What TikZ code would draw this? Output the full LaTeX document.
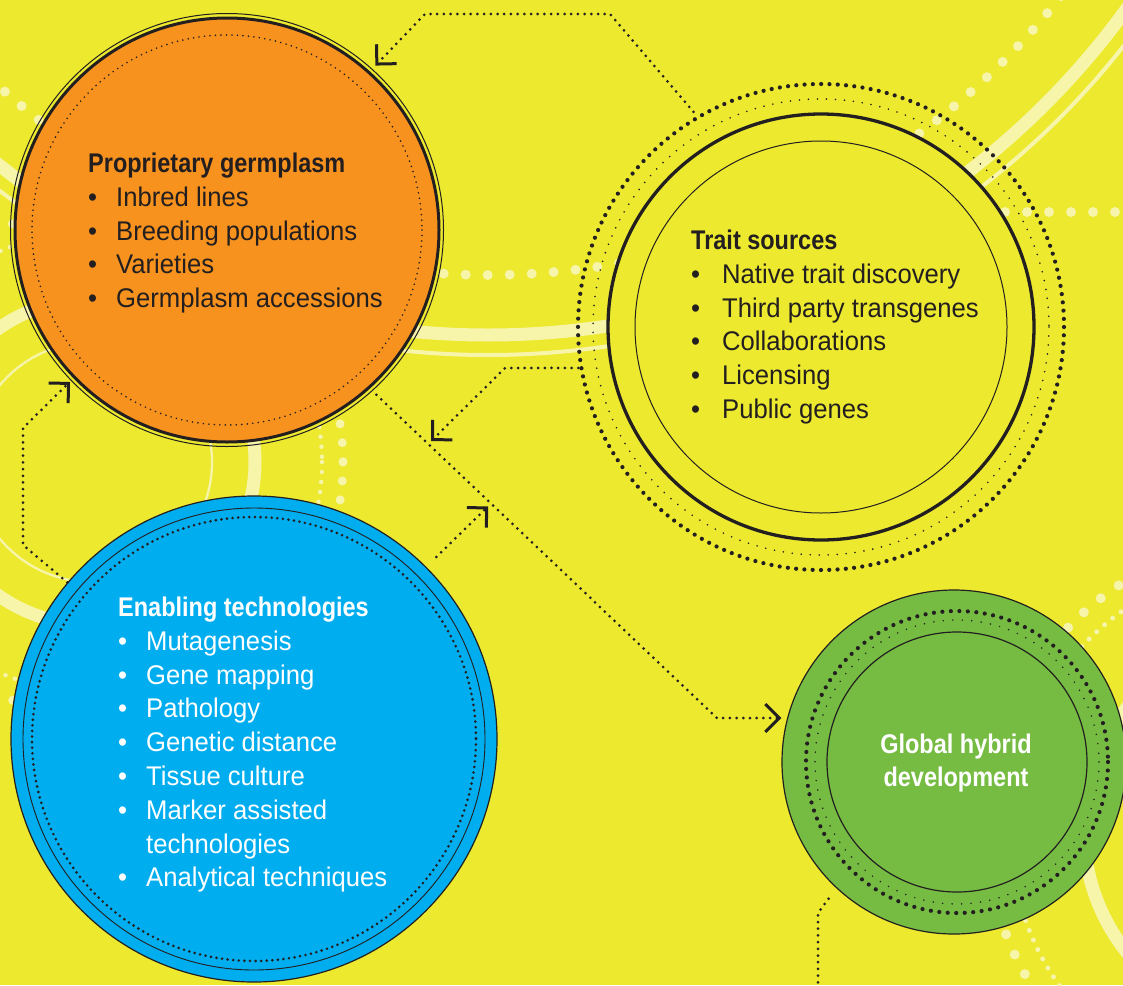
\documentclass[tikz,border=0pt]{standalone}
\usepackage{fontspec}
\setmainfont{Liberation Sans}[FakeStretch=0.95]
\newfontfamily\hfont{Liberation Sans Bold}[FakeStretch=0.87]
\usetikzlibrary{arrows.meta,calc}
\definecolor{bg}{RGB}{236,233,47}
\definecolor{pale}{RGB}{247,245,170}
\definecolor{dark}{RGB}{35,31,32}
\definecolor{orng}{RGB}{247,146,30}
\definecolor{blu}{RGB}{0,173,238}
\definecolor{grn}{RGB}{118,188,66}
\newcommand\mybul[1][28pt]{\makebox[#1][l]{\textbullet}}
\begin{document}
\begin{tikzpicture}[x=1pt,y=-1pt,
  conn/.style={draw=dark, line width=3pt, dash pattern=on 0pt off 6.7pt, line cap=round},
  tip/.style={-{Straight Barb[length=14pt, width=28pt, line width=3pt, sharp]}},
  paleband/.style={draw=pale, line width=#1},
  paledots/.style 2 args={draw=pale, line width=#1, dash pattern=on 0pt off #2, line cap=round},
  darkdots/.style 2 args={draw=dark, line width=#1, dash pattern=on 0pt off #2, line cap=round},
  disc/.style={circle, inner sep=0pt, draw=dark},
  txt/.style={anchor=north west, inner sep=0pt, align=left, font=\fontsize{27pt}{33.8pt}\selectfont}]
\useasboundingbox (0,0) rectangle (1123,985);
\fill[bg] (0,0) rectangle (1123,985);

% background decoration
\begin{scope}
\clip (0,0) rectangle (1123,985);
\draw[paleband=13pt] (488,-453) circle[radius=788];
\draw[paleband=4pt] (488,-453) circle[radius=808];
\draw[paledots={10pt}{22pt}] (488,-453) circle[radius=728];
\draw[paleband=2.3pt] (92,462) circle[radius=120];
\draw[paleband=13pt] (92,462) circle[radius=163];
\draw[paledots={4.5pt}{10pt}] (92,462) circle[radius=230];
\draw[paledots={9pt}{19pt}] (92,462) circle[radius=251];
\draw[paleband=13pt] (1280,830) circle[radius=196];
\draw[paledots={5pt}{10.5pt}] (1280,830) circle[radius=270];
\draw[paledots={10pt}{22pt}] (1280,830) circle[radius=293];
\draw[paledots={10pt}{22pt}] (1005,212) -- (1140,212);
\end{scope}

% Trait sources
\node[disc, minimum size=426pt, fill=bg, line width=3.3pt] (trait) at (821,327) {};
\draw[dark, line width=1pt] (trait.center) circle[radius=186];
\draw[darkdots={4.2pt}{8.3pt}] (trait.center) circle[radius=243];
\draw[darkdots={1.8pt}{9pt}] (trait.center) circle[radius=228];

% Proprietary germplasm
\node[disc, minimum size=424pt, fill=orng, line width=3pt] (orange) at (227,230) {};
\draw[dark, line width=1pt] (orange.center) circle[radius=216.5];
\draw[darkdots={1.8pt}{5.5pt}] (orange.center) circle[radius=195];

% Enabling technologies
\node[disc, minimum size=486pt, fill=blu, line width=1.2pt] (blue) at (254,739) {};
\draw[dark, line width=0.9pt] (blue.center) circle[radius=231];
\draw[darkdots={2.9pt}{5.6pt}] (blue.center) circle[radius=222];

% Global hybrid development
\node[disc, minimum size=344pt, fill=grn, line width=1.2pt] (green) at (954,762) {};
\draw[darkdots={4.2pt}{8.5pt}] ($(green.center)+(3,0)$) circle[radius=151];
\draw[darkdots={1.7pt}{9.5pt}] ($(green.center)+(3,0)$) circle[radius=142];
\draw[dark, line width=1.2pt] ($(green.center)+(3,0)$) circle[radius=130];

% texts
\node[txt, text=dark] (orangetext) at (88,152.7)
  {{\hfont Proprietary germplasm}\\ \mybul Inbred lines\\ \mybul Breeding populations\\ \mybul Varieties\\ \mybul Germplasm accessions};
\node[txt, text=dark] (traittext) at (691,229.7)
  {{\hfont Trait sources}\\ \mybul[31pt]Native trait discovery\\ \mybul[31pt]Third party transgenes\\ \mybul[31pt]Collaborations\\ \mybul[31pt]Licensing\\ \mybul[31pt]Public genes};
\node[txt, text=white] (bluetext) at (118,596.7)
  {{\hfont Enabling technologies}\\ \mybul Mutagenesis\\ \mybul Gene mapping\\ \mybul Pathology\\ \mybul Genetic distance\\ \mybul Tissue culture\\ \mybul Marker assisted\\ \makebox[28pt]{}technologies\\ \mybul Analytical techniques};
\node[anchor=north, inner sep=0pt, align=center, text=white, font=\fontsize{27pt}{33pt}\hfont] (greentext) at (956,733.4)
  {Global hybrid\\development};

% connectors
\coordinate (c3) at (717,718);
\coordinate (j2) at ($(orange.312.3)!0.168!(c3)$);
\coordinate (j4) at ($(orange.312.3)!0.349!(c3)$);
\coordinate (tail) at (818,995);
\draw[conn, tip, shorten <=36pt, shorten >=8pt] (trait.119.3) -- (610,14) -- (425,14) -- (orange.48);
\draw[conn, tip, shorten <=32pt, shorten >=4pt] (trait.191) -- (505,368) -- (j2);
\draw[conn, tip, shorten <=9pt] (orange.312.3) -- (c3) -- (c3 -| green.west);
\draw[conn, tip, shorten <=14pt, shorten >=4pt] (blue.45) -- (j4);
\draw[conn, tip, shorten >=5pt] (blue.140.9) -- (23,545) -- (23,428) -- (orange.224.1);
\draw[conn, shorten <=13pt] (green.227.4) -- (818,913) -- (tail);
\end{tikzpicture}
\end{document}
